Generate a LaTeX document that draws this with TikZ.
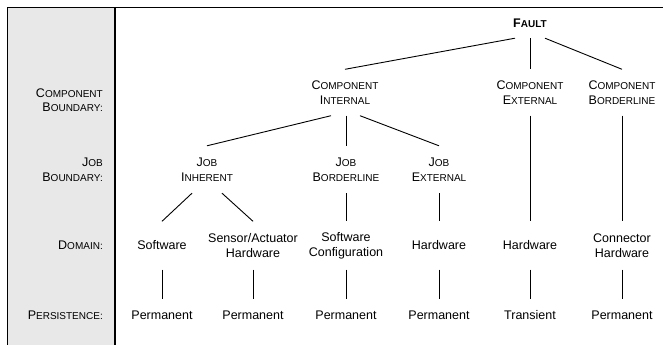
\documentclass[tikz,border=0pt]{standalone}
\usepackage{fontspec}
\setmainfont{Liberation Sans}
\newcommand\smc[2]{#1{\fontsize{10}{15}\selectfont #2}}
\begin{document}
\begin{tikzpicture}[x=1pt,y=-1pt,
  txt/.style={font=\fontsize{12.5}{15}\selectfont, align=center, inner xsep=0pt, inner ysep=0pt},
  rowf/.style={txt, minimum height=30pt},
  rowc/.style={txt, minimum height=46pt},
  rowj/.style={txt, minimum height=47pt},
  rowd/.style={txt, minimum height=48pt},
  rowp/.style={txt, minimum height=32pt},
  lab/.style={font=\fontsize{12.5}{14.5}\selectfont, align=right, anchor=east, inner sep=0pt},
  conn/.style={draw=black, line width=0.9pt},
  frame/.style={draw=black, line width=1.3pt}]
\useasboundingbox (0,0) rectangle (664,345);
\fill[black!9] (7.5,7.5) rectangle (115,346);
\draw[frame] (7.5,346) -- (7.5,7.5) -- (663,7.5);
\draw[frame] (115,7.5) -- (115,346);

% left labels
\node[lab] (lc) at (103,100) {\smc{C}{OMPONENT}\\\smc{B}{OUNDARY:}};
\node[lab] (lj) at (103,169.5) {\smc{J}{OB}\\\smc{B}{OUNDARY:}};
\node[lab] (ld) at (103,245) {\smc{D}{OMAIN:}};
\node[lab] (lp) at (103,315) {\smc{P}{ERSISTENCE:}};

% tree
\node[rowf] (fault) at (530,23) {\textbf{\smc{F}{AULT}}};
\node[rowc] (ci) at (345,92.5) {\smc{C}{OMPONENT}\\\smc{I}{NTERNAL}};
\node[rowc] (ce) at (530,92.5) {\smc{C}{OMPONENT}\\\smc{E}{XTERNAL}};
\node[rowc] (cb) at (622,92.5) {\smc{C}{OMPONENT}\\\smc{B}{ORDERLINE}};
\node[rowj] (ji) at (207,169.5) {\smc{J}{OB}\\\smc{I}{NHERENT}};
\node[rowj] (jb) at (346,169.5) {\smc{J}{OB}\\\smc{B}{ORDERLINE}};
\node[rowj] (je) at (439,169.5) {\smc{J}{OB}\\\smc{E}{XTERNAL}};
\node[rowd] (d1) at (162,245.5) {Software};
\node[rowd] (d2) at (253,245.5) {Sensor/Actuator\\Hardware};
\node[rowd] (d3) at (346,245.5) {Software\\Configuration};
\node[rowd] (d4) at (439,245.5) {Hardware};
\node[rowd] (d5) at (530,245.5) {Hardware};
\node[rowd] (d6) at (622,245.5) {Connector\\Hardware};
\node[rowp] (p1) at (162,315) {Permanent};
\node[rowp] (p2) at (253,315) {Permanent};
\node[rowp] (p3) at (346,315) {Permanent};
\node[rowp] (p4) at (439,315) {Permanent};
\node[rowp] (p5) at (530,315) {Transient};
\node[rowp] (p6) at (622,315) {Permanent};

\draw[conn] ([xshift=-15pt]fault.south) -- (ci.north);
\draw[conn] (fault.south) -- (ce.north);
\draw[conn] ([xshift=15pt]fault.south) -- (cb.north);
\draw[conn] ([xshift=-14pt]ci.south) -- (ji.north);
\draw[conn] ([xshift=1pt]ci.south) -- (jb.north);
\draw[conn] ([xshift=15pt]ci.south) -- (je.north);
\draw[conn] ([xshift=-15pt]ji.south) -- (d1.north);
\draw[conn] ([xshift=15pt]ji.south) -- (d2.north);
\draw[conn] (jb.south) -- (d3.north);
\draw[conn] (je.south) -- (d4.north);
\draw[conn] (ce.south) -- (d5.north);
\draw[conn] (cb.south) -- (d6.north);
\foreach \i in {1,...,6} {\draw[conn] (d\i.south) -- (p\i.north);}
\end{tikzpicture}
\end{document}
